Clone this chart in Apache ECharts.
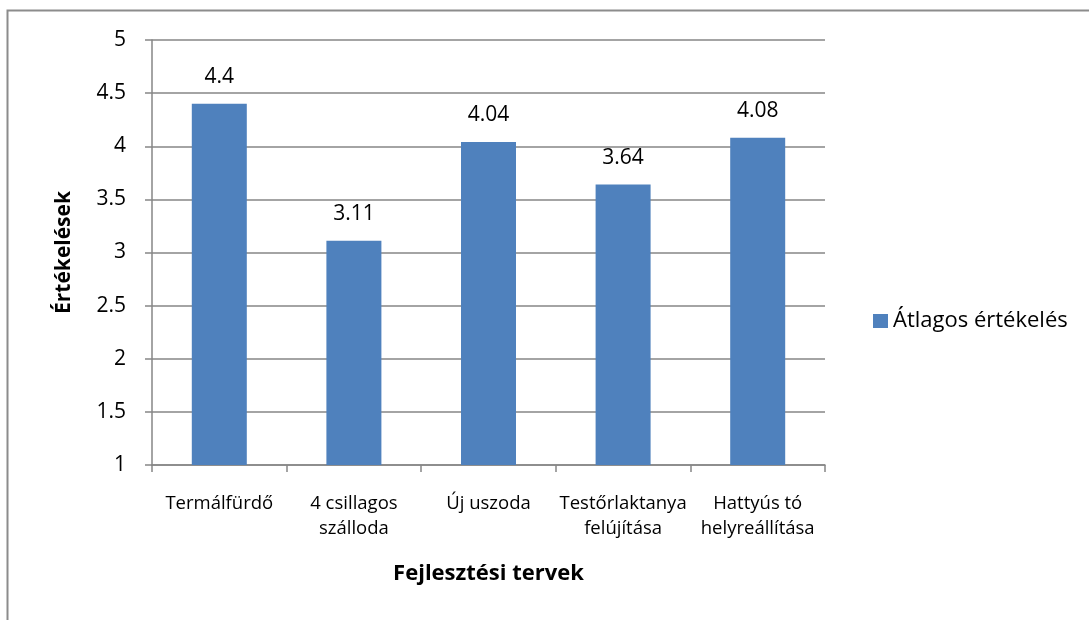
<!DOCTYPE html>
<html>
<head>
<meta charset="utf-8">
<script src="https://cdn.jsdelivr.net/npm/echarts@6/dist/echarts.min.js"></script>
<style>
  html, body { margin: 0; padding: 0; background: #fff; }
  #chart { width: 1089px; height: 620px; }
</style>
</head>
<body>
<div id="chart"></div>
<script>
// 데이터
const categories = ["Termálfürdő", "4 csillagos\nszálloda", "Új uszoda", "Testőrlaktanya\nfelújítása", "Hattyús tó\nhelyreállítása"];
const averageScores = [4.4, 3.11, 4.04, 3.64, 4.08];
const seriesName = "Átlagos értékelés";

const FONT = "'Open Sans', 'DejaVu Sans', sans-serif";
const GRAY = "#868686";

const chart = echarts.init(document.getElementById("chart"));

chart.setOption({
    animation: false,
    graphic: [{
        type: "rect",
        shape: { x: 7.5, y: 10.5, width: 1200, height: 700 },
        style: { fill: "none", stroke: "#8c8c8c", lineWidth: 2 }
    }],
    legend: {
        orient: "vertical",
        left: 868,
        top: 305,
        itemWidth: 15,
        itemHeight: 14,
        itemGap: 8,
        icon: "rect",
        textStyle: { fontFamily: FONT, fontSize: 22, color: "#000" },
        data: [seriesName]
    },
    grid: {
        left: 152,
        right: 264,
        top: 40,
        bottom: 155
    },
    xAxis: {
        type: "category",
        data: categories,
        name: "Fejlesztési tervek",
        nameLocation: "middle",
        nameGap: 98,
        nameTextStyle: { fontFamily: FONT, fontSize: 22, fontWeight: "bold", color: "#000" },
        axisLine: { lineStyle: { color: GRAY, width: 1.5 } },
        axisTick: { show: true, length: 7, lineStyle: { color: GRAY, width: 1.5 } },
        axisLabel: {
            fontFamily: FONT, fontSize: 18.5, color: "#000",
            margin: 26, lineHeight: 25, interval: 0
        }
    },
    yAxis: {
        type: "value",
        min: 1,
        max: 5,
        interval: 0.5,
        name: "Értékelések",
        nameLocation: "middle",
        nameGap: 77,
        nameTextStyle: { fontFamily: FONT, fontSize: 21, fontWeight: "bold", color: "#000" },
        axisLine: { show: true, lineStyle: { color: GRAY, width: 1.5 } },
        axisTick: { show: true, length: 7, lineStyle: { color: GRAY, width: 1.5 } },
        axisLabel: { fontFamily: FONT, fontSize: 21, color: "#000", margin: 26 },
        splitLine: { lineStyle: { color: GRAY, width: 1.5 } }
    },
    series: [{
        name: seriesName,
        type: "bar",
        data: averageScores,
        barWidth: 55,
        itemStyle: { color: "#4F81BD" },
        label: {
            show: true,
            position: "top",
            distance: 16,
            fontFamily: FONT,
            fontSize: 21,
            color: "#000"
        }
    }]
});
</script>
</body>
</html>
